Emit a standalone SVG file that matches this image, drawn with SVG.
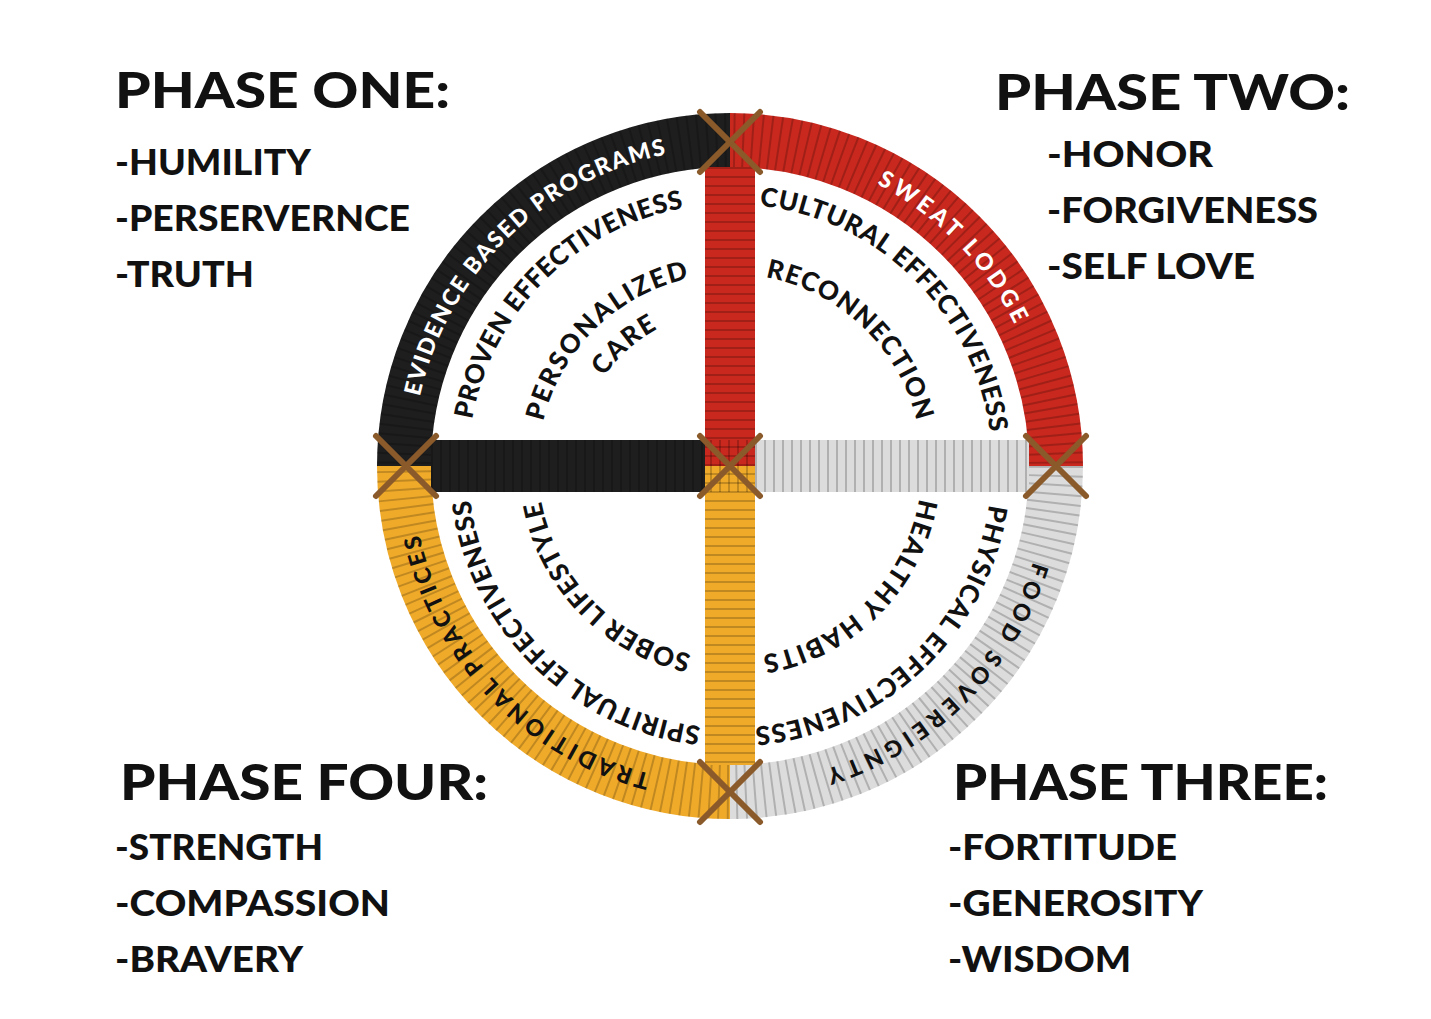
<svg xmlns="http://www.w3.org/2000/svg" width="1431" height="1019" viewBox="0 0 1431 1019">
<style>
.h{font-family:Lato,"Liberation Sans",sans-serif;font-weight:900;font-size:50px;fill:#111}
.i{font-family:Lato,"Liberation Sans",sans-serif;font-weight:900;font-size:36px;fill:#111}
.a{font-family:Lato,"Liberation Sans",sans-serif;font-weight:900;fill:#111}
.ring{font-size:23px}
.mid{font-size:26px}
.w{fill:#fff}
.tex{fill:none;stroke:rgba(0,0,0,0.2);stroke-dasharray:2 7}
.tie{stroke:#8a5a2b;stroke-width:6;stroke-linecap:round}
</style>
<rect width="1431" height="1019" fill="#fff"/>
<defs>
<path id="p1" d="M419.0,399.9 A318,318 0 0 1 669.3,153.8"/>
<path id="p2" d="M472.0,420.5 A262,262 0 0 1 684.5,208.0"/>
<path id="p3" d="M542.9,422.8 A192,192 0 0 1 690.1,278.2"/>
<path id="p4" d="M602.5,378.6 A155,155 0 0 1 659.6,327.9"/>
<path id="p5" d="M874.4,182.7 A318,318 0 0 1 1015.8,326.6"/>
<path id="p6" d="M757.4,205.4 A262,262 0 0 1 990.0,434.1"/>
<path id="p7" d="M763.3,276.9 A192,192 0 0 1 917.1,422.8"/>
<path id="p8" d="M1034.1,559.0 A318,318 0 0 1 823.0,770.1"/>
<path id="p9" d="M989.5,502.5 A262,262 0 0 1 752.8,727.0"/>
<path id="p10" d="M919.6,496.0 A192,192 0 0 1 760.0,655.6"/>
<path id="p11" d="M653.1,774.6 A318,318 0 0 1 419.0,532.1"/>
<path id="p12" d="M702.6,726.6 A262,262 0 0 1 470.0,497.9"/>
<path id="p13" d="M693.4,654.5 A192,192 0 0 1 540.9,499.3"/>
</defs>
<g id="wheel">
<path d="M404,466 A326,326 0 0 1 730,140" fill="none" stroke="#1e1e1e" stroke-width="54"/>
<path d="M730,140 A326,326 0 0 1 1056,466" fill="none" stroke="#c8281e" stroke-width="54"/>
<path d="M1056,466 A326,326 0 0 1 730,792" fill="none" stroke="#dcdcdc" stroke-width="54"/>
<path d="M730,792 A326,326 0 0 1 404,466" fill="none" stroke="#f0aa2a" stroke-width="54"/>
<circle cx="730" cy="466" r="326" class="tex" stroke-width="54"/>
<line x1="431" y1="466" x2="730" y2="466" stroke="#1e1e1e" stroke-width="52"/>
<line x1="730" y1="466" x2="1029" y2="466" stroke="#dcdcdc" stroke-width="52"/>
<line x1="730" y1="167" x2="730" y2="466" stroke="#c8281e" stroke-width="50"/>
<line x1="730" y1="466" x2="730" y2="765" stroke="#f0aa2a" stroke-width="50"/>
<line x1="431" y1="466" x2="1029" y2="466" class="tex" stroke-width="52"/>
<line x1="730" y1="167" x2="730" y2="765" class="tex" stroke-width="50"/>
<g class="tie">
<line x1="700" y1="112" x2="760" y2="172"/><line x1="760" y1="112" x2="700" y2="172"/>
<line x1="376" y1="436" x2="436" y2="496"/><line x1="436" y1="436" x2="376" y2="496"/>
<line x1="1026" y1="436" x2="1086" y2="496"/><line x1="1086" y1="436" x2="1026" y2="496"/>
<line x1="700" y1="762" x2="760" y2="822"/><line x1="760" y1="762" x2="700" y2="822"/>
<line x1="700" y1="436" x2="760" y2="496"/><line x1="760" y1="436" x2="700" y2="496"/>
</g>
</g>
<g id="arc-labels" class="a">
<text class="ring w"><textPath href="#p1" startOffset="50%" text-anchor="middle" textLength="365">EVIDENCE BASED PROGRAMS</textPath></text>
<text class="mid"><textPath href="#p2" startOffset="50%" text-anchor="middle" textLength="318">PROVEN EFFECTIVENESS</textPath></text>
<text class="mid"><textPath href="#p3" startOffset="50%" text-anchor="middle" textLength="215">PERSONALIZED</textPath></text>
<text class="mid"><textPath href="#p4" startOffset="50%" text-anchor="middle" textLength="72">CARE</textPath></text>
<text class="ring w"><textPath href="#p5" startOffset="50%" text-anchor="middle" textLength="200">SWEAT LODGE</textPath></text>
<text class="mid"><textPath href="#p6" startOffset="50%" text-anchor="middle" textLength="348">CULTURAL EFFECTIVENESS</textPath></text>
<text class="mid"><textPath href="#p7" startOffset="50%" text-anchor="middle" textLength="220">RECONNECTION</textPath></text>
<text class="ring"><textPath href="#p8" startOffset="50%" text-anchor="middle" textLength="305">FOOD SOVEREIGNTY</textPath></text>
<text class="mid"><textPath href="#p9" startOffset="50%" text-anchor="middle" textLength="348">PHYSICAL EFFECTIVENESS</textPath></text>
<text class="mid"><textPath href="#p10" startOffset="50%" text-anchor="middle" textLength="236">HEALTHY HABITS</textPath></text>
<text class="ring"><textPath href="#p11" startOffset="50%" text-anchor="middle" textLength="350">TRADITIONAL PRACTICES</textPath></text>
<text class="mid"><textPath href="#p12" startOffset="50%" text-anchor="middle" textLength="348">SPIRITUAL EFFECTIVENESS</textPath></text>
<text class="mid"><textPath href="#p13" startOffset="50%" text-anchor="middle" textLength="227">SOBER LIFESTYLE</textPath></text>
</g>
<g id="phase-one">
<text class="h" x="115" y="108" textLength="335" lengthAdjust="spacingAndGlyphs">PHASE ONE:</text>
<text class="i" x="115" y="175" textLength="196" lengthAdjust="spacingAndGlyphs">-HUMILITY</text>
<text class="i" x="115" y="231" textLength="295" lengthAdjust="spacingAndGlyphs">-PERSERVERNCE</text>
<text class="i" x="115" y="287" textLength="139" lengthAdjust="spacingAndGlyphs">-TRUTH</text>
</g>
<g id="phase-two">
<text class="h" x="995" y="110" textLength="355" lengthAdjust="spacingAndGlyphs">PHASE TWO:</text>
<text class="i" x="1047" y="167" textLength="166" lengthAdjust="spacingAndGlyphs">-HONOR</text>
<text class="i" x="1047" y="223" textLength="271" lengthAdjust="spacingAndGlyphs">-FORGIVENESS</text>
<text class="i" x="1047" y="279" textLength="208" lengthAdjust="spacingAndGlyphs">-SELF LOVE</text>
</g>
<g id="phase-four">
<text class="h" x="120" y="800" textLength="368" lengthAdjust="spacingAndGlyphs">PHASE FOUR:</text>
<text class="i" x="115" y="860" textLength="208" lengthAdjust="spacingAndGlyphs">-STRENGTH</text>
<text class="i" x="115" y="916" textLength="275" lengthAdjust="spacingAndGlyphs">-COMPASSION</text>
<text class="i" x="115" y="972" textLength="188" lengthAdjust="spacingAndGlyphs">-BRAVERY</text>
</g>
<g id="phase-three">
<text class="h" x="953" y="800" textLength="375" lengthAdjust="spacingAndGlyphs">PHASE THREE:</text>
<text class="i" x="948" y="860" textLength="229" lengthAdjust="spacingAndGlyphs">-FORTITUDE</text>
<text class="i" x="948" y="916" textLength="255" lengthAdjust="spacingAndGlyphs">-GENEROSITY</text>
<text class="i" x="948" y="972" textLength="183" lengthAdjust="spacingAndGlyphs">-WISDOM</text>
</g>
</svg>
